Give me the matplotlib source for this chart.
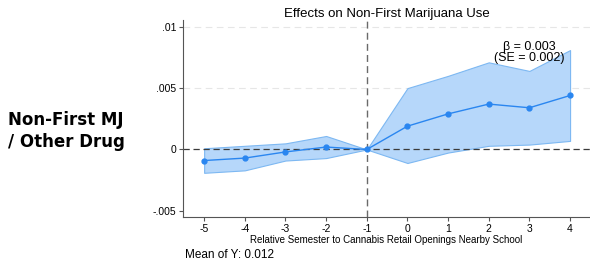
import numpy as np
import matplotlib.pyplot as plt

plt.rcParams['font.family'] = ['Liberation Sans', 'DejaVu Sans']

# Event-study estimates
semesters = [-5, -4, -3, -2, -1, 0, 1, 2, 3, 4]
coef = [-0.0009, -0.0007, -0.0002, 0.0002, 0.0, 0.0019, 0.0029, 0.0037, 0.0034, 0.0044]
ci_low = [-0.0019, -0.0017, -0.0009, -0.0007, 0.0, -0.0011, -0.00025, 0.0003, 0.0004, 0.0007]
ci_high = [0.0001, 0.0003, 0.0005, 0.0011, 0.0, 0.0050, 0.0060, 0.0071, 0.0064, 0.0081]
yticks = [-0.005, 0, 0.005, 0.01]
ytick_labels = ['-.005', '0', '.005', '.01']

fig = plt.figure(figsize=(5.9, 2.6), dpi=100)
ax = fig.add_axes([183 / 590, 43 / 260, 407 / 590, 197 / 260])

# Confidence band and point estimates
ax.fill_between(semesters, ci_low, ci_high, color='#b6d7fa', edgecolor='#7db8f2', linewidth=0.8, zorder=1)
ax.plot(semesters, coef, color='#2a86f0', linewidth=1.0, marker='o', markersize=3.5, zorder=3)

# Reference lines
for y in [0.005, 0.01]:
    ax.axhline(y, color='#e6e6e6', linestyle=(0, (6, 4)), linewidth=0.8, zorder=0)
ax.axhline(0, color='#3a3a3a', linestyle=(0, (5, 3)), linewidth=0.9, zorder=2)
ax.axvline(-1, color='#6a6a6a', linestyle=(0, (5, 3)), linewidth=1.0, zorder=2)

ax.text(3.0, 0.0079, '\u03b2 = 0.003\n(SE = 0.002)', ha='center', va='center', fontsize=9,
        linespacing=0.95)

ax.set_xlim(-5.52, 4.49)
ax.set_ylim(-0.0055, 0.01055)
ax.set_xticks(semesters)
ax.set_xticklabels([str(s) for s in semesters])
ax.set_yticks(yticks)
ax.set_yticklabels(ytick_labels)
ax.tick_params(labelsize=7.5, length=3, width=0.8, color='#555555', pad=2)
for side in ['top', 'right']:
    ax.spines[side].set_visible(False)
for side in ['left', 'bottom']:
    ax.spines[side].set_color('#555555')
    ax.spines[side].set_linewidth(0.8)

ax.set_title('Effects on Non-First Marijuana Use', fontsize=9.5, pad=2)
ax.set_xlabel('Relative Semester to Cannabis Retail Openings Nearby School', fontsize=7, labelpad=1)

fig.text(185 / 590, 1 - 255 / 260, 'Mean of Y: 0.012', fontsize=8.5, ha='left', va='center')
fig.text(8 / 590, 1 - 131 / 260, 'Non-First MJ\n/ Other Drug', fontsize=12, fontweight='bold',
         ha='left', va='center', linespacing=1.3, family=['DejaVu Sans'])

fig.savefig('out.png', dpi=100)
